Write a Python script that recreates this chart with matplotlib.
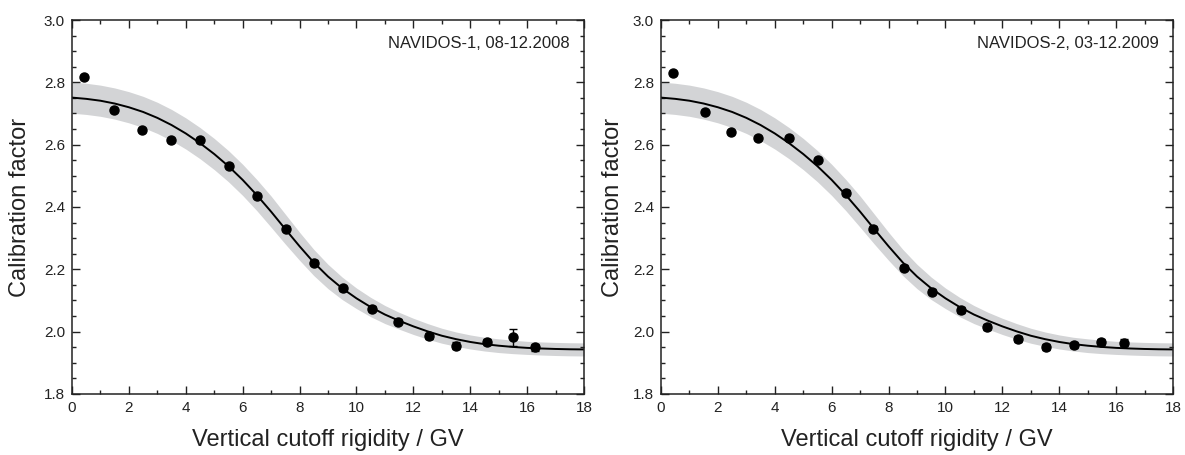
import numpy as np
import matplotlib
matplotlib.use("Agg")
from matplotlib import pyplot as plt
from matplotlib.ticker import MultipleLocator

plt.rcParams['font.family'] = ['Liberation Sans', 'DejaVu Sans']

# measured points, NAVIDOS-1 (left) and NAVIDOS-2 (right)
r1 = [0.42, 1.49, 2.45, 3.49, 4.50, 5.52, 6.49, 7.52, 8.51, 9.52, 10.55, 11.47, 12.55, 13.50, 14.58, 15.52, 16.28]
k1 = [2.816, 2.711, 2.647, 2.615, 2.615, 2.531, 2.436, 2.331, 2.221, 2.139, 2.074, 2.032, 1.986, 1.955, 1.966, 1.982, 1.950]
e1 = [0.006, 0.006, 0.006, 0.006, 0.006, 0.006, 0.007, 0.008, 0.008, 0.008, 0.009, 0.009, 0.010, 0.011, 0.010, 0.028, 0.011]

r2 = [0.41, 1.53, 2.47, 3.40, 4.49, 5.51, 6.51, 7.47, 8.53, 9.53, 10.53, 11.47, 12.56, 13.53, 14.51, 15.47, 16.29]
k2 = [2.829, 2.705, 2.640, 2.622, 2.622, 2.550, 2.446, 2.330, 2.205, 2.128, 2.069, 2.014, 1.977, 1.952, 1.957, 1.967, 1.965]
e2 = [0.006, 0.006, 0.006, 0.006, 0.006, 0.006, 0.007, 0.008, 0.008, 0.008, 0.009, 0.009, 0.010, 0.010, 0.010, 0.011, 0.011]

# fitted curve and its uncertainty band
rfit = [0.0, 0.5, 1.0, 1.5, 2.0, 2.5, 3.0, 3.5, 4.0, 4.5, 5.0, 5.5, 6.0, 6.5, 7.0, 7.5, 8.0, 8.5, 9.0,
        9.5, 10.0, 10.5, 11.0, 11.5, 12.0, 12.5, 13.0, 13.5, 14.0, 14.5, 15.0, 15.5, 16.0, 16.5, 17.0, 17.5, 18.0]
kfit = [2.751, 2.747, 2.741, 2.732, 2.720, 2.705, 2.686, 2.663, 2.636, 2.605, 2.570, 2.531, 2.487, 2.438,
        2.385, 2.329, 2.274, 2.222, 2.177, 2.139, 2.107, 2.079, 2.055, 2.035, 2.017, 2.001, 1.987, 1.976,
        1.967, 1.960, 1.955, 1.951, 1.948, 1.946, 1.9445, 1.9435, 1.943]
dfit = [0.050, 0.050, 0.050, 0.050, 0.050, 0.050, 0.050, 0.050, 0.050, 0.050, 0.050, 0.050, 0.050, 0.050,
        0.050, 0.048, 0.045, 0.042, 0.039, 0.036, 0.033, 0.031, 0.029, 0.027, 0.026, 0.025, 0.024, 0.023,
        0.0225, 0.022, 0.022, 0.0215, 0.021, 0.021, 0.021, 0.021, 0.021]

labels = ["NAVIDOS-1, 08-12.2008", "NAVIDOS-2, 03-12.2009"]

fig = plt.figure(figsize=(11.85, 4.55), dpi=100)
ax1 = fig.add_axes([72/1185, 61/455, 512/1185, 374/455])
ax2 = fig.add_axes([661/1185, 61/455, 512/1185, 374/455])

kf = np.array(kfit)
df = np.array(dfit)

for ax, r, k, e, lab, ylx in [(ax1, r1, k1, e1, labels[0], -0.1016), (ax2, r2, k2, e2, labels[1], -0.094)]:
    ax.fill_between(rfit, kf - df, kf + df, color='#d3d4d6', lw=0, zorder=1)
    ax.plot(rfit, kfit, color='black', lw=1.4, zorder=2)
    ax.errorbar(r, k, yerr=e, fmt='o', color='black', ms=6.5, elinewidth=1.0,
                capsize=2.8, capthick=1.0, zorder=3)
    ax.set_xlim(0, 18)
    ax.set_ylim(1.8, 3.0)
    ax.xaxis.set_major_locator(MultipleLocator(2))
    ax.xaxis.set_minor_locator(MultipleLocator(1))
    ax.yaxis.set_major_locator(MultipleLocator(0.2))
    ax.yaxis.set_minor_locator(MultipleLocator(0.05))
    ax.yaxis.set_major_formatter(plt.FormatStrFormatter('%.1f'))
    ax.tick_params(which='both', direction='in', top=True, right=True, width=1.0,
                   labelsize=11, colors='#222222', pad=5)
    ax.tick_params(which='major', length=5.5)
    ax.tick_params(which='minor', length=2.8)
    for s in ax.spines.values():
        s.set_linewidth(1.1)
        s.set_color('#222222')
    ax.set_xlabel("Vertical cutoff rigidity / GV", fontsize=17, color='#222222', va='center')
    ax.set_ylabel("Calibration factor", fontsize=17, color='#222222', va='center')
    ax.xaxis.set_label_coords(0.5, -0.123)
    ax.yaxis.set_label_coords(ylx, 0.5)
    ax.text(0.972, 0.938, lab, transform=ax.transAxes, ha='right', va='center',
            fontsize=12, color='#222222')

fig.savefig("out.png", dpi=100)
